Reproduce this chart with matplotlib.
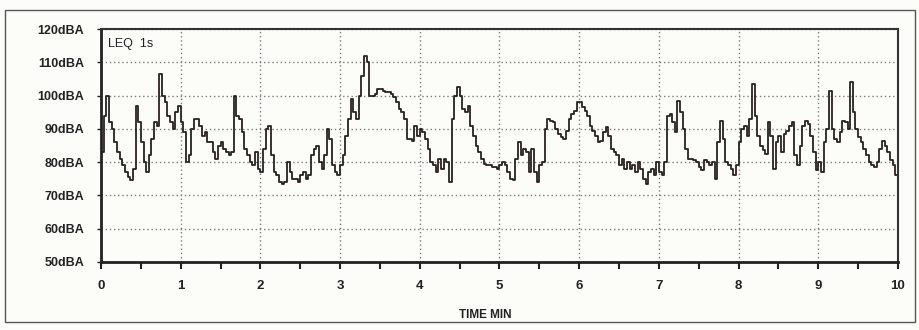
#IMPORTS

import numpy as np
import matplotlib
matplotlib.use('Agg')
import matplotlib.pyplot as plt
from matplotlib.patches import Rectangle

#DATA (LEQ 1s levels, one value per 2 seconds, one list per minute)

min0 = [83, 94, 100, 92, 90, 86, 83, 81, 79, 77, 75.5, 74.5, 78, 97, 92, 86, 80, 77, 82, 87,
        92, 91, 106.5, 100, 98, 94, 92, 90, 95, 97]
min1 = [92, 89, 80, 82, 90, 93, 93, 91, 88, 89, 86, 86, 83, 81, 85, 86, 84, 83, 82, 83,
        100, 94, 93, 89, 84, 82, 80, 79, 83, 78]
min2 = [77, 84, 90, 91, 82, 77, 76, 74, 73.5, 74, 80, 77, 75, 75, 74, 76, 77, 75, 76, 82,
        84, 85, 80, 78, 82, 90, 87, 79, 77, 76]
min3 = [79, 82, 88, 93, 99, 95, 93, 100, 106, 112, 110, 100, 100, 100.5, 102, 102, 101.5, 101, 101, 100.5,
        99.5, 98, 96, 95, 93, 87, 87, 86.5, 91, 88]
min4 = [90, 89, 87, 84, 80, 79, 77, 81, 78, 81, 80, 74, 93, 100, 102.5, 100, 96, 95, 97, 91,
        88, 85, 83, 81, 79.5, 79, 79, 78.5, 78.5, 78]
min5 = [79, 80, 79, 77, 75, 74.5, 81, 86, 82, 84, 83, 77, 84, 77, 74, 79, 80, 90, 93, 92.5,
        92, 90, 88.5, 87.5, 87, 89.5, 93, 94.5, 95.5, 98]
min6 = [98, 96.5, 95.5, 94, 91, 89.5, 88, 86, 86.5, 89, 90.5, 88, 84, 83, 82, 79, 81, 78, 80, 78,
        79, 77, 80, 78, 75, 73.5, 77, 78, 76, 80]
min7 = [77, 76, 80, 94, 94.5, 92, 89, 98.5, 95, 90, 84, 81, 81, 80.5, 80, 78.5, 77.5, 80.5, 80, 79,
        80, 75, 86, 92.5, 87, 80, 79, 78, 76, 79]
min8 = [86, 90, 91, 88, 93, 103.5, 94, 88, 85, 83.5, 82.5, 92, 88, 78, 86, 88, 83, 88.5, 89.5, 91,
        92, 82, 79, 85, 91, 92.5, 91.5, 88, 83, 77.5]
min9 = [80, 77, 86, 90, 101.5, 90, 87, 86, 89, 92.5, 92, 90, 104, 95, 90, 87.5, 86, 84, 82, 80,
        79, 78.5, 80, 84, 86.5, 85, 83, 80.5, 79, 76]

levels = min0 + min1 + min2 + min3 + min4 + min5 + min6 + min7 + min8 + min9
end_level = 75

y_ticks = [50, 60, 70, 80, 90, 100, 110, 120]
y_tick_labels = [str(v) + 'dBA' for v in y_ticks]
x_ticks = list(range(0, 11))

#time axis in minutes (2 s per value) plus the closing point at 10 min
t = np.arange(len(levels) + 1) * 2 / 60.0
lv = np.array(levels + [end_level])

#PLOTTING

plt.rcParams['font.family'] = ['Liberation Sans', 'DejaVu Sans']
bg = '#fcfcf8'

fig = plt.figure(figsize=(9.2, 3.3), dpi=100, facecolor=bg)

#outer frame around the whole chart
fig.patches.append(Rectangle((5 / 920, 1 - 322 / 330), 910 / 920, 312 / 330,
                             transform=fig.transFigure, fill=False,
                             edgecolor='#555555', linewidth=1.0))

ax = fig.add_axes([101 / 920, 1 - 262 / 330, 797 / 920, 233 / 330])
ax.set_facecolor(bg)

ax.plot(t, lv, drawstyle='steps-post', color='#2a2020', linewidth=1.3)

ax.set_xlim(0, 10)
ax.set_ylim(50, 120)

#grid
ax.set_yticks(y_ticks)
ax.set_yticklabels(y_tick_labels, fontweight='bold', fontsize=9)
ax.set_xticks(x_ticks)
ax.set_xticklabels([str(v) for v in x_ticks], fontweight='bold', fontsize=9.5)
ax.set_xticks(np.arange(0.5, 10, 1.0), minor=True)
ax.grid(True, which='major', linestyle=(0, (1, 2)), color='#7a7a7a', linewidth=1.0)

ax.tick_params(axis='y', length=3, width=1, pad=9, colors='#222222')
ax.tick_params(axis='x', which='both', length=5, width=1.5, pad=8, colors='#222222')

for side in ['left', 'bottom']:
    ax.spines[side].set_linewidth(2.0)
    ax.spines[side].set_color('#222222')
for side in ['top', 'right']:
    ax.spines[side].set_linewidth(1.5)
    ax.spines[side].set_color('#333333')

ax.text(0.009, 0.96, 'LEQ  1s', transform=ax.transAxes, fontsize=9, va='top', ha='left', color='#222222')

fig.text(485 / 920, 1 - 315 / 330, 'TIME MIN', ha='center', va='center',
         fontsize=8.5, fontweight='bold', color='#222222')

plt.savefig('out.png', dpi=100, facecolor=bg)
plt.close()
